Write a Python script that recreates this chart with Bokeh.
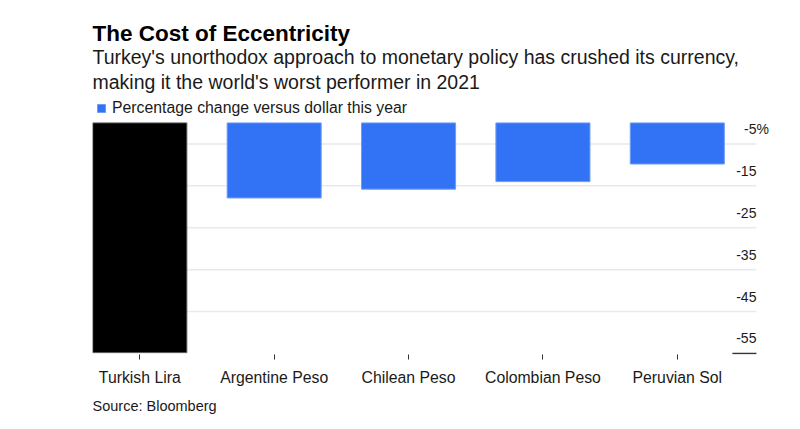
from bokeh.plotting import figure
from bokeh.models import (ColumnDataSource, FixedTicker, Legend, LegendItem,
                          Range1d, Title)
from bokeh.embed import file_html
from bokeh.resources import INLINE
from bokeh.core.properties import value

# ---------------- data ----------------
CATEGORIES = ["Turkish Lira", "Argentine Peso", "Chilean Peso",
              "Colombian Peso", "Peruvian Sol"]
CHANGE = [-54.8, -17.9, -15.8, -14.0, -9.8]
HIGHLIGHT = ["Turkish Lira"]
Y_TICKS = [-5, -15, -25, -35, -45, -55]
Y_TICK_LABELS = ["-5", "-15", "-25", "-35", "-45", "-55"]
Y_UNIT = "%"
TITLE = "The Cost of Eccentricity"
SUBTITLE = ["Turkey's unorthodox approach to monetary policy has crushed its currency,",
            "making it the world's worst performer in 2021"]
LEGEND_LABEL = "Percentage change versus dollar this year"
SOURCE = "Source: Bloomberg"

# ---------------- style / layout ----------------
FONT = "Liberation Sans"
BLUE = "#3273f6"
BLUE_EDGE = "#6d9bf8"
BLACK = "#000000"
BLACK_EDGE = "#555555"
TEXT = "#1a1a1a"

X_START, X_LABEL, X_END = -0.352, 4.589, 4.768
Y_START, Y_END = -55.25, 5.83

xs = list(range(len(CATEGORIES)))
fills = [BLACK if c in HIGHLIGHT else BLUE for c in CATEGORIES]
edges = [BLACK_EDGE if c in HIGHLIGHT else BLUE_EDGE for c in CATEGORIES]
src = ColumnDataSource(dict(x=xs, bottom=CHANGE, fill=fills, edge=edges))

p = figure(width=800, height=429, frame_width=688, frame_height=256,
           min_border_left=92, min_border_right=20,
           min_border_top=98, min_border_bottom=75,
           x_range=Range1d(X_START, X_END), y_range=Range1d(Y_START, Y_END),
           output_backend="svg", toolbar_location=None,
           y_axis_location=None)
p.outline_line_color = None
p.background_fill_color = "white"
p.border_fill_color = "white"
p.xgrid.visible = False
p.ygrid.visible = False

# horizontal gridlines (stop at the label column)
g = Y_TICKS[:-1]
p.segment(x0=[X_START] * len(g), x1=[X_LABEL] * len(g), y0=g, y1=g,
          line_color="#e9e9e9", line_width=1.5)

# bars
bars = p.vbar(x="x", top=0, bottom="bottom", width=0.7, source=src,
              fill_color="fill", line_color="edge", line_width=1)

# x axis
ax = p.xaxis[0]
ax.ticker = FixedTicker(ticks=xs)
ax.major_label_overrides = {i: c for i, c in zip(xs, CATEGORIES)}
ax.axis_line_color = None
ax.major_tick_line_color = "#333333"
ax.major_tick_in = 0
ax.major_tick_out = 5
ax.minor_tick_line_color = None
ax.major_label_text_font = FONT
ax.major_label_text_font_size = "15.8px"
ax.major_label_text_color = TEXT
ax.major_label_standoff = 9

# y tick labels (right column, above gridlines)
ysrc = ColumnDataSource(dict(x=[X_LABEL] * len(Y_TICKS), y=Y_TICKS, t=Y_TICK_LABELS))
p.text(x="x", y="y", text="t", source=ysrc, text_align="right",
       text_baseline="alphabetic", y_offset=-15,
       text_font=value(FONT), text_font_size="14px", text_color=TEXT)
p.text(x=[X_LABEL], y=[Y_TICKS[0]], text=[Y_UNIT], text_align="left",
       text_baseline="alphabetic", y_offset=-15,
       text_font=value(FONT), text_font_size="14px", text_color=TEXT)
# short dark baseline under the last label
p.segment(x0=[X_LABEL - 0.179], x1=[X_LABEL], y0=[Y_TICKS[-1]], y1=[Y_TICKS[-1]],
          line_color="#333333", line_width=1.5)

# legend
legend = Legend(items=[LegendItem(label=LEGEND_LABEL, renderers=[bars], index=1)],
                location=(4, 237), orientation="horizontal",
                glyph_width=10, glyph_height=10, label_standoff=6,
                padding=0, margin=0, spacing=0, label_height=10,
                border_line_color=None, background_fill_alpha=0,
                label_text_font=FONT, label_text_font_size="15.8px",
                label_text_color=TEXT)
p.add_layout(legend, "center")

# header (first added = closest to the plot)
p.add_layout(Title(text=SUBTITLE[1], text_font=FONT, text_font_size="19.5px",
                   text_font_style="normal", text_color=TEXT, align="left",
                   standoff=11), "above")
p.add_layout(Title(text=SUBTITLE[0], text_font=FONT, text_font_size="19.5px",
                   text_font_style="normal", text_color=TEXT, align="left",
                   standoff=-8), "above")
p.add_layout(Title(text=TITLE, text_font=FONT, text_font_size="22.5px",
                   text_font_style="bold", text_color="#000000", align="left",
                   standoff=3), "above")
# footer
p.add_layout(Title(text=SOURCE, text_font=FONT, text_font_size="14.5px",
                   text_font_style="normal", text_color=TEXT, align="left",
                   standoff=15), "below")

open("out.html", "w").write(file_html(p, INLINE))
